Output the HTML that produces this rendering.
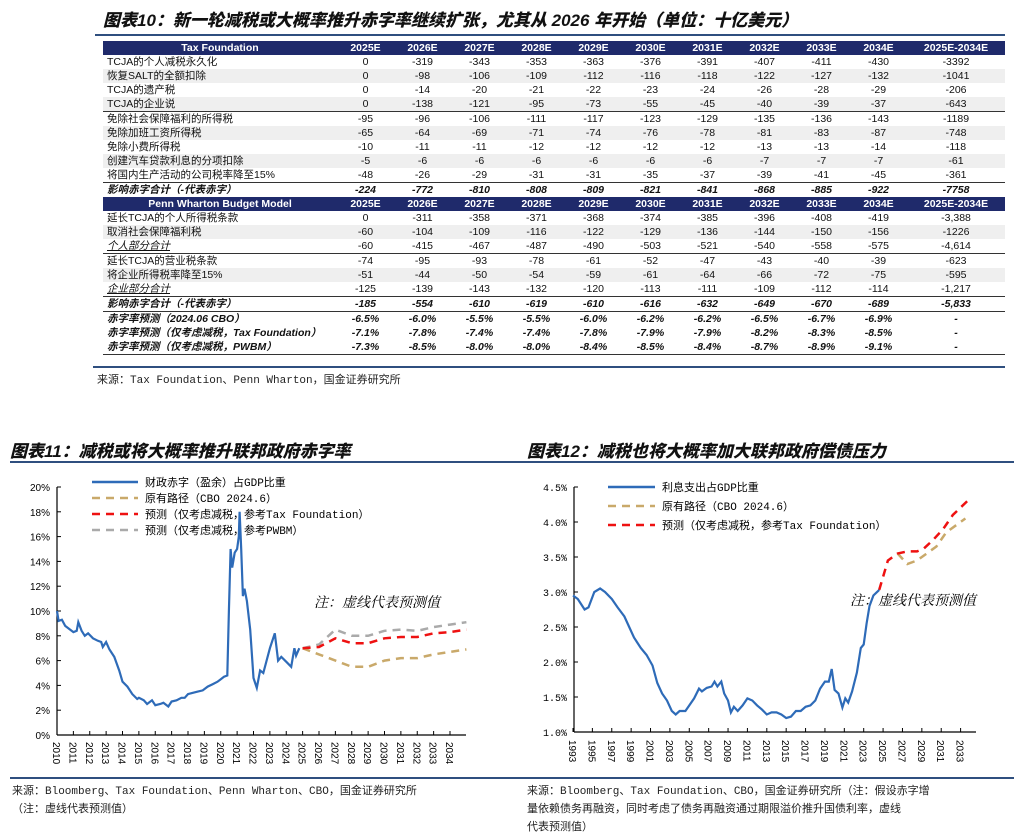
<!DOCTYPE html>
<html><head><meta charset="utf-8"><style>
body{margin:0;width:1024px;height:831px;background:#fff;position:relative;overflow:hidden;font-family:"Liberation Sans","Noto Sans CJK SC",sans-serif;}
.abs{position:absolute;}
.title{font-family:"Liberation Sans","Noto Sans CJK SC",sans-serif;font-weight:900;font-style:italic;font-size:17px;color:#111;white-space:nowrap;}
table{border-collapse:collapse;table-layout:fixed;font-size:10.5px;}
td{height:14px;padding:0;line-height:14px;text-align:center;white-space:nowrap;overflow:hidden;color:#111;}
td.l{text-align:left;padding-left:4px;}
tr.h td{background:#1f2a6b;color:#fff;font-weight:bold;}
tr.g td{background:#efefef;}
tr.b td{font-weight:bold;font-style:italic;}
tr.i td.l{font-style:italic;text-decoration:underline;}
tr.t td{border-top:1.5px solid #333;}
.src{font-family:"Liberation Mono","Noto Sans CJK SC",monospace;font-size:11px;color:#222;white-space:nowrap;}
</style></head><body>
<div class="abs title" style="left:103px;top:6px;">图表10：新一轮减税或大概率推升赤字率继续扩张，尤其从 2026 年开始（单位：十亿美元）</div>
<div class="abs" style="left:95px;top:34px;width:910px;height:2px;background:#2f4f7f;"></div>
<table class="abs" style="left:103px;top:41px;width:902px;">
<colgroup><col style="width:234px"><col style="width:57px"><col style="width:57px"><col style="width:57px"><col style="width:57px"><col style="width:57px"><col style="width:57px"><col style="width:57px"><col style="width:57px"><col style="width:57px"><col style="width:57px"><col style="width:98px"></colgroup>
<tr class="h"><td>Tax Foundation</td><td>2025E</td><td>2026E</td><td>2027E</td><td>2028E</td><td>2029E</td><td>2030E</td><td>2031E</td><td>2032E</td><td>2033E</td><td>2034E</td><td>2025E-2034E</td></tr>
<tr><td class="l">TCJA的个人减税永久化</td><td>0</td><td>-319</td><td>-343</td><td>-353</td><td>-363</td><td>-376</td><td>-391</td><td>-407</td><td>-411</td><td>-430</td><td>-3392</td></tr>
<tr class="g"><td class="l">恢复SALT的全额扣除</td><td>0</td><td>-98</td><td>-106</td><td>-109</td><td>-112</td><td>-116</td><td>-118</td><td>-122</td><td>-127</td><td>-132</td><td>-1041</td></tr>
<tr><td class="l">TCJA的遗产税</td><td>0</td><td>-14</td><td>-20</td><td>-21</td><td>-22</td><td>-23</td><td>-24</td><td>-26</td><td>-28</td><td>-29</td><td>-206</td></tr>
<tr class="g"><td class="l">TCJA的企业说</td><td>0</td><td>-138</td><td>-121</td><td>-95</td><td>-73</td><td>-55</td><td>-45</td><td>-40</td><td>-39</td><td>-37</td><td>-643</td></tr>
<tr class="t"><td class="l">免除社会保障福利的所得税</td><td>-95</td><td>-96</td><td>-106</td><td>-111</td><td>-117</td><td>-123</td><td>-129</td><td>-135</td><td>-136</td><td>-143</td><td>-1189</td></tr>
<tr class="g"><td class="l">免除加班工资所得税</td><td>-65</td><td>-64</td><td>-69</td><td>-71</td><td>-74</td><td>-76</td><td>-78</td><td>-81</td><td>-83</td><td>-87</td><td>-748</td></tr>
<tr><td class="l">免除小费所得税</td><td>-10</td><td>-11</td><td>-11</td><td>-12</td><td>-12</td><td>-12</td><td>-12</td><td>-13</td><td>-13</td><td>-14</td><td>-118</td></tr>
<tr class="g"><td class="l">创建汽车贷款利息的分项扣除</td><td>-5</td><td>-6</td><td>-6</td><td>-6</td><td>-6</td><td>-6</td><td>-6</td><td>-7</td><td>-7</td><td>-7</td><td>-61</td></tr>
<tr><td class="l">将国内生产活动的公司税率降至15%</td><td>-48</td><td>-26</td><td>-29</td><td>-31</td><td>-31</td><td>-35</td><td>-37</td><td>-39</td><td>-41</td><td>-45</td><td>-361</td></tr>
<tr class="b t"><td class="l">影响赤字合计（-代表赤字）</td><td>-224</td><td>-772</td><td>-810</td><td>-808</td><td>-809</td><td>-821</td><td>-841</td><td>-868</td><td>-885</td><td>-922</td><td>-7758</td></tr>
<tr class="h"><td>Penn Wharton Budget Model</td><td>2025E</td><td>2026E</td><td>2027E</td><td>2028E</td><td>2029E</td><td>2030E</td><td>2031E</td><td>2032E</td><td>2033E</td><td>2034E</td><td>2025E-2034E</td></tr>
<tr><td class="l">延长TCJA的个人所得税条款</td><td>0</td><td>-311</td><td>-358</td><td>-371</td><td>-368</td><td>-374</td><td>-385</td><td>-396</td><td>-408</td><td>-419</td><td>-3,388</td></tr>
<tr class="g"><td class="l">取消社会保障福利税</td><td>-60</td><td>-104</td><td>-109</td><td>-116</td><td>-122</td><td>-129</td><td>-136</td><td>-144</td><td>-150</td><td>-156</td><td>-1226</td></tr>
<tr class="i"><td class="l">个人部分合计</td><td>-60</td><td>-415</td><td>-467</td><td>-487</td><td>-490</td><td>-503</td><td>-521</td><td>-540</td><td>-558</td><td>-575</td><td>-4,614</td></tr>
<tr class="t"><td class="l">延长TCJA的营业税条款</td><td>-74</td><td>-95</td><td>-93</td><td>-78</td><td>-61</td><td>-52</td><td>-47</td><td>-43</td><td>-40</td><td>-39</td><td>-623</td></tr>
<tr class="g"><td class="l">将企业所得税率降至15%</td><td>-51</td><td>-44</td><td>-50</td><td>-54</td><td>-59</td><td>-61</td><td>-64</td><td>-66</td><td>-72</td><td>-75</td><td>-595</td></tr>
<tr class="i"><td class="l">企业部分合计</td><td>-125</td><td>-139</td><td>-143</td><td>-132</td><td>-120</td><td>-113</td><td>-111</td><td>-109</td><td>-112</td><td>-114</td><td>-1,217</td></tr>
<tr class="b t"><td class="l">影响赤字合计（-代表赤字）</td><td>-185</td><td>-554</td><td>-610</td><td>-619</td><td>-610</td><td>-616</td><td>-632</td><td>-649</td><td>-670</td><td>-689</td><td>-5,833</td></tr>
<tr class="b t"><td class="l">赤字率预测（2024.06 CBO）</td><td>-6.5%</td><td>-6.0%</td><td>-5.5%</td><td>-5.5%</td><td>-6.0%</td><td>-6.2%</td><td>-6.2%</td><td>-6.5%</td><td>-6.7%</td><td>-6.9%</td><td>-</td></tr>
<tr class="b"><td class="l">赤字率预测（仅考虑减税，Tax Foundation）</td><td>-7.1%</td><td>-7.8%</td><td>-7.4%</td><td>-7.4%</td><td>-7.8%</td><td>-7.9%</td><td>-7.9%</td><td>-8.2%</td><td>-8.3%</td><td>-8.5%</td><td>-</td></tr>
<tr class="b" style="border-bottom:1.5px solid #333"><td class="l">赤字率预测（仅考虑减税，PWBM）</td><td>-7.3%</td><td>-8.5%</td><td>-8.0%</td><td>-8.0%</td><td>-8.4%</td><td>-8.5%</td><td>-8.4%</td><td>-8.7%</td><td>-8.9%</td><td>-9.1%</td><td>-</td></tr>
</table>
<div class="abs" style="left:93px;top:366px;width:912px;height:1.5px;background:#2f4f7f;"></div>
<div class="abs src" style="left:97px;top:371px;">来源：Tax Foundation、Penn Wharton，国金证券研究所</div>

<div class="abs title" style="left:10px;top:437px;">图表11：减税或将大概率推升联邦政府赤字率</div>
<div class="abs title" style="left:527px;top:437px;">图表12：减税也将大概率加大联邦政府偿债压力</div>
<div class="abs" style="left:10px;top:461px;width:1004px;height:2px;background:#2f4f7f;"></div>

<svg class="abs" id="c1" style="left:0;top:470px;" width="512" height="300"></svg>
<svg class="abs" id="c2" style="left:512px;top:470px;" width="512" height="300"></svg>

<div class="abs" style="left:10px;top:777px;width:1004px;height:1.5px;background:#2f4f7f;"></div>
<div class="abs src" style="left:12px;top:783px;line-height:18px;">来源：Bloomberg、Tax Foundation、Penn Wharton、CBO，国金证券研究所<br>（注：虚线代表预测值）</div>
<div class="abs src" style="left:527px;top:783px;line-height:18px;">来源：Bloomberg、Tax Foundation、CBO，国金证券研究所（注：假设赤字增<br>量依赖债务再融资，同时考虑了债务再融资通过期限溢价推升国债利率，虚线<br>代表预测值）</div>

<script>
// ---- Chart 11 data ----
const c1Years=[2010,2010.1,2010.3,2010.5,2010.8,2011.0,2011.2,2011.3,2011.5,2011.7,2011.9,2012.2,2012.5,2012.7,2012.8,2013.0,2013.2,2013.5,2013.8,2014.0,2014.3,2014.6,2014.9,2015.0,2015.3,2015.5,2015.8,2016.0,2016.3,2016.5,2016.8,2017.0,2017.3,2017.6,2017.8,2018.0,2018.3,2018.6,2018.9,2019.2,2019.5,2019.8,2020.0,2020.2,2020.4,2020.5,2020.6,2020.7,2020.85,2021.0,2021.1,2021.15,2021.25,2021.35,2021.45,2021.6,2021.8,2022.0,2022.2,2022.4,2022.6,2022.8,2023.0,2023.3,2023.5,2023.7,2024.0,2024.3,2024.5,2024.6,2024.8];
const c1Deficit=[10,9.2,9.3,8.8,8.5,8.3,8.4,9.1,8.4,8.0,8.2,7.8,7.6,7.5,7.1,7.5,6.9,6.3,5.2,4.3,3.9,3.3,2.9,3.0,2.8,2.5,2.8,2.4,2.5,2.6,2.3,2.7,2.8,3.0,3.0,3.3,3.4,3.5,3.6,3.9,4.1,4.3,4.5,4.7,4.8,10,15,13.5,14.7,15,16,18,15,11.2,11.8,10.8,8.5,4.6,3.8,5.2,5.0,6.0,7.0,8.2,6.0,6.3,5.9,5.5,7.0,6.4,7.0];
const c1FcYears=[2025,2026,2027,2028,2029,2030,2031,2032,2033,2034,2035];
const c1Cbo=[7.0,6.5,6.0,5.5,5.5,6.0,6.2,6.2,6.5,6.7,6.9];
const c1Tf=[7.0,7.1,7.8,7.4,7.4,7.8,7.9,7.9,8.2,8.3,8.5];
const c1Pwbm=[7.0,7.3,8.5,8.0,8.0,8.4,8.5,8.4,8.7,8.9,9.1];
const c1YTicks=[0,2,4,6,8,10,12,14,16,18,20];
const c1XLabels=[2010,2011,2012,2013,2014,2015,2016,2017,2018,2019,2020,2021,2022,2023,2024,2025,2026,2027,2028,2029,2030,2031,2032,2033,2034];
// ---- Chart 12 data ----
const c2Years=[1993,1993.5,1994.2,1994.6,1995.2,1995.8,1996.3,1997,1997.6,1998.3,1998.8,1999.3,2000,2000.6,2001.2,2001.7,2002.2,2002.7,2003.2,2003.6,2004,2004.6,2005,2005.5,2006,2006.3,2006.8,2007.3,2007.6,2007.9,2008.3,2008.6,2009,2009.3,2009.6,2010,2010.5,2011,2011.5,2012,2012.5,2013,2013.5,2014,2014.5,2015,2015.5,2016,2016.5,2017,2017.5,2018,2018.5,2019,2019.4,2019.7,2020,2020.4,2020.8,2021.1,2021.4,2021.8,2022.3,2022.7,2023.0,2023.3,2023.6,2024,2024.6];
const c2Interest=[2.95,2.9,2.75,2.78,3.0,3.05,3.0,2.9,2.78,2.65,2.5,2.35,2.2,2.1,1.95,1.7,1.55,1.45,1.3,1.25,1.3,1.3,1.38,1.48,1.62,1.58,1.63,1.65,1.72,1.65,1.72,1.55,1.45,1.28,1.36,1.3,1.38,1.48,1.45,1.38,1.32,1.25,1.28,1.28,1.25,1.2,1.22,1.3,1.3,1.36,1.38,1.45,1.62,1.72,1.72,1.9,1.6,1.55,1.35,1.48,1.42,1.58,1.85,2.2,2.25,2.55,2.8,2.95,3.03];
const c2TfYears=[2024.6,2025.5,2026.5,2027.5,2028.5,2029.2,2030.2,2031.2,2032.2,2033.7];
const c2Tf=[3.03,3.45,3.55,3.58,3.58,3.62,3.75,3.9,4.1,4.3];
const c2CboYears=[2026.5,2027.5,2028.5,2029.5,2030.5,2031.5,2033.5];
const c2Cbo=[3.55,3.4,3.45,3.55,3.65,3.85,4.05];
const c2YTicks=[1.0,1.5,2.0,2.5,3.0,3.5,4.0,4.5];
const c2XLabels=[1993,1995,1997,1999,2001,2003,2005,2007,2009,2011,2013,2015,2017,2019,2021,2023,2025,2027,2029,2031,2033];

const NS='http://www.w3.org/2000/svg';
function el(svg,tag,attrs,text){const e=document.createElementNS(NS,tag);for(const k in attrs)e.setAttribute(k,attrs[k]);if(text!==undefined)e.textContent=text;svg.appendChild(e);return e;}
function pathD(xs,ys,fx,fy){return xs.map((x,i)=>(i?'L':'M')+fx(x).toFixed(1)+' '+fy(ys[i]).toFixed(1)).join(' ');}
const FONT='"Liberation Mono","Noto Sans CJK SC",monospace';

// Chart 1
(function(){
const s=document.getElementById('c1');
const x=v=>57+(v-2010)*16.375, y=v=>265-v*12.4;
el(s,'line',{x1:57,y1:17,x2:57,y2:265,stroke:'#000','stroke-width':1.2});
el(s,'line',{x1:57,y1:265,x2:466,y2:265,stroke:'#000','stroke-width':1.2});
c1YTicks.forEach(t=>{
  const tk=el(s,'line',{x1:57,y1:y(t),x2:61,y2:y(t),stroke:'#000'});
  
  
  const lb=el(s,'text',{x:50,y:y(t)+4,'text-anchor':'end','font-size':10,'font-family':'"Liberation Sans",sans-serif'},t+'%');
  
  
});
c1XLabels.forEach(t=>{
  const tk=el(s,'line',{x1:x(t),y1:265,x2:x(t),y2:261,stroke:'#000'});
  
  
  const lb=el(s,'text',{transform:`translate(${x(t)-4},272) rotate(90)`,'font-size':10,'font-family':'"Liberation Sans",sans-serif'},String(t));
  
  
});
let p;
p=el(s,'path',{d:pathD(c1FcYears,c1Cbo,x,y),fill:'none',stroke:'#c9a96a','stroke-width':2.5,'stroke-dasharray':'8 6'});

p=el(s,'path',{d:pathD(c1FcYears,c1Pwbm,x,y),fill:'none',stroke:'#aaaaaa','stroke-width':2.5,'stroke-dasharray':'8 6'});

p=el(s,'path',{d:pathD(c1FcYears,c1Tf,x,y),fill:'none',stroke:'#ee1111','stroke-width':2.5,'stroke-dasharray':'8 6'});

p=el(s,'path',{d:pathD(c1Years,c1Deficit,x,y),fill:'none',stroke:'#2e6bb8','stroke-width':2.2});

const leg=[['#2e6bb8','','财政赤字（盈余）占GDP比重'],['#c9a96a','8 6','原有路径（CBO 2024.6）'],['#ee1111','8 6','预测（仅考虑减税，参考Tax Foundation）'],['#aaaaaa','8 6','预测（仅考虑减税，参考PWBM）']];
leg.forEach((l,i)=>{
  const yy=12+i*16;
  const ln=el(s,'line',{x1:92,y1:yy,x2:138,y2:yy,stroke:l[0],'stroke-width':2.5,'stroke-dasharray':l[1]||'none'});
  
  const tx=el(s,'text',{x:145,y:yy+4,'font-size':11,'font-family':FONT},l[2]);
  
});
const n=el(s,'text',{x:314,y:137,'font-size':14,'font-style':'italic','font-family':'"Liberation Serif","Noto Serif CJK SC",serif'},'注：虚线代表预测值');

})();

// Chart 2
(function(){
const s=document.getElementById('c2');
const x=v=>61+(v-1993)*9.69, y=v=>262-(v-1)*70;
el(s,'line',{x1:62,y1:17,x2:62,y2:262,stroke:'#000','stroke-width':1.2});
el(s,'line',{x1:62,y1:262,x2:464,y2:262,stroke:'#000','stroke-width':1.2});
c2YTicks.forEach(t=>{
  const tk=el(s,'line',{x1:62,y1:y(t),x2:66,y2:y(t),stroke:'#000'});
  
  
  const lb=el(s,'text',{x:55,y:y(t)+4,'text-anchor':'end','font-size':10,'font-family':FONT},t.toFixed(1)+'%');
  
  
});
c2XLabels.forEach(t=>{
  const tk=el(s,'line',{x1:x(t),y1:262,x2:x(t),y2:258,stroke:'#000'});
  
  
  const lb=el(s,'text',{transform:`translate(${x(t)-4},270) rotate(90)`,'font-size':10,'font-family':'"Liberation Sans",sans-serif'},String(t));
  
  
});
let p;
p=el(s,'path',{d:pathD(c2CboYears,c2Cbo,x,y),fill:'none',stroke:'#c9a96a','stroke-width':2.5,'stroke-dasharray':'8 6'});

p=el(s,'path',{d:pathD(c2TfYears,c2Tf,x,y),fill:'none',stroke:'#ee1111','stroke-width':2.5,'stroke-dasharray':'8 6'});

p=el(s,'path',{d:pathD(c2Years,c2Interest,x,y),fill:'none',stroke:'#2e6bb8','stroke-width':2.2});

const leg=[['#2e6bb8','','利息支出占GDP比重'],['#c9a96a','8 6','原有路径（CBO 2024.6）'],['#ee1111','8 6','预测（仅考虑减税，参考Tax Foundation）']];
leg.forEach((l,i)=>{
  const yy=17+i*19;
  const ln=el(s,'line',{x1:96,y1:yy,x2:143,y2:yy,stroke:l[0],'stroke-width':2.5,'stroke-dasharray':l[1]||'none'});
  
  const tx=el(s,'text',{x:150,y:yy+4,'font-size':11,'font-family':FONT},l[2]);
  
});
const n=el(s,'text',{x:338,y:135,'font-size':14,'font-style':'italic','font-family':'"Liberation Serif","Noto Serif CJK SC",serif'},'注：虚线代表预测值');

})();
</script>
</body></html>
